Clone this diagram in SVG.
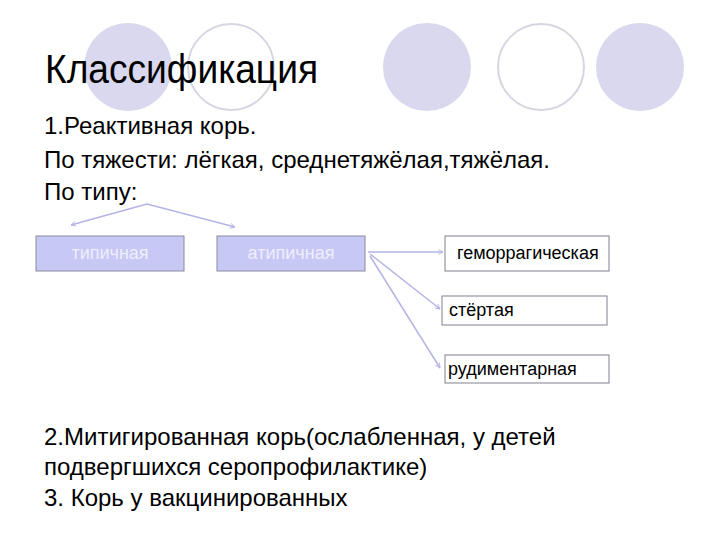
<svg xmlns="http://www.w3.org/2000/svg" width="720" height="540" viewBox="0 0 720 540">
  <defs>
    <style>
      .deco-fill { fill: #d9d8ee; }
      .deco-ring { fill: #ffffff; stroke: #d6d6e2; stroke-width: 2; }
      .title { font-family: "Liberation Sans", Arial, sans-serif; font-size: 41px; fill: #000; }
      .body { font-family: "Liberation Sans", Arial, sans-serif; font-size: 24px; fill: #000; }
      .box-blue { fill: #c8c8f4; stroke: #8a8aa0; stroke-width: 1; }
      .box-white { fill: #ffffff; stroke: #808090; stroke-width: 1; }
      .lbl-blue { font-family: "Liberation Sans", Arial, sans-serif; font-size: 18px; fill: #eeeeff; text-anchor: middle; }
      .lbl { font-family: "Liberation Sans", Arial, sans-serif; font-size: 18px; fill: #000; }
      .conn { stroke: #b4b4e6; stroke-width: 1.5; fill: none; marker-end: url(#arr); }
    </style>
    <marker id="arr" viewBox="0 0 10 10" refX="9" refY="5" markerWidth="6" markerHeight="6" orient="auto" markerUnits="userSpaceOnUse">
      <path d="M1,1 L9,5 L1,9" fill="none" stroke="#b4b4e6" stroke-width="1.5"/>
    </marker>
  </defs>
  <rect width="720" height="540" fill="#ffffff"/>

  <g id="decor">
    <circle class="deco-fill" cx="128" cy="67" r="44"/>
    <circle class="deco-ring" cx="231" cy="67" r="43"/>
    <circle class="deco-fill" cx="427" cy="67" r="44"/>
    <circle class="deco-ring" cx="541" cy="67" r="43"/>
    <circle class="deco-fill" cx="640" cy="67" r="44"/>
  </g>

  <g id="title">
    <text class="title" x="45" y="83" textLength="273" lengthAdjust="spacingAndGlyphs">Классификация</text>
  </g>

  <g id="text-top">
    <text class="body" x="44" y="134">1.Реактивная корь.</text>
    <text class="body" x="44" y="168">По тяжести: лёгкая, среднетяжёлая,тяжёлая.</text>
    <text class="body" x="44" y="200">По типу:</text>
  </g>

  <g id="connectors">
    <line class="conn" x1="147" y1="204" x2="71" y2="225"/>
    <line class="conn" x1="147" y1="204" x2="235" y2="227"/>
    <line class="conn" x1="368" y1="252" x2="443" y2="252"/>
    <line class="conn" x1="370" y1="254" x2="440" y2="309"/>
    <line class="conn" x1="370" y1="256" x2="440" y2="368"/>
  </g>

  <g id="node-typical">
    <rect class="box-blue" x="36" y="236" width="148" height="35"/>
    <text class="lbl-blue" x="110" y="259">типичная</text>
  </g>
  <g id="node-atypical">
    <rect class="box-blue" x="217" y="236" width="148" height="35"/>
    <text class="lbl-blue" x="291" y="259">атипичная</text>
  </g>
  <g id="node-hemorrhagic">
    <rect class="box-white" x="445" y="236" width="164" height="35"/>
    <text class="lbl" x="457" y="259">геморрагическая</text>
  </g>
  <g id="node-erased">
    <rect class="box-white" x="442" y="296" width="165" height="29"/>
    <text class="lbl" x="449" y="316">стёртая</text>
  </g>
  <g id="node-rudimentary">
    <rect class="box-white" x="445" y="355" width="164" height="28"/>
    <text class="lbl" x="448" y="375">рудиментарная</text>
  </g>

  <g id="text-bottom">
    <text class="body" x="44" y="445">2.Митигированная корь(ослабленная, у детей</text>
    <text class="body" x="44" y="475">подвергшихся серопрофилактике)</text>
    <text class="body" x="44" y="506">3. Корь у вакцинированных</text>
  </g>
</svg>
